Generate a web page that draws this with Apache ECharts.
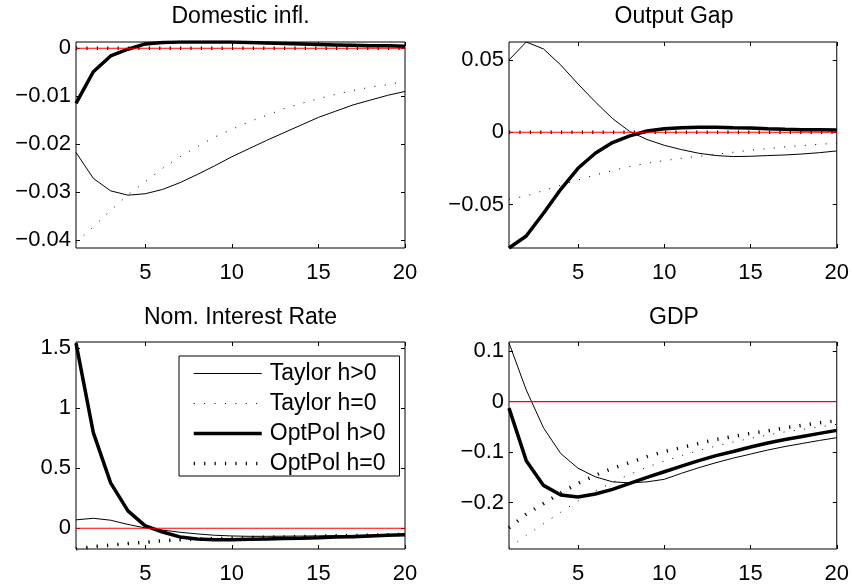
<!DOCTYPE html>
<html>
<head>
<meta charset="utf-8">
<script src="https://cdn.jsdelivr.net/npm/echarts@6/dist/echarts.min.js"></script>
<style>html,body{margin:0;padding:0;background:#fff;}#c{width:852px;height:585px;}</style>
</head>
<body>
<div id="c"></div>
<script>
// ---- data ----
const periods = [1,2,3,4,5,6,7,8,9,10,11,12,13,14,15,16,17,18,19,20];
const seriesNames = ['Taylor h>0','Taylor h=0','OptPol h>0','OptPol h=0'];
const panelTitles = ['Domestic infl.','Output Gap','Nom. Interest Rate','GDP'];

// Domestic inflation
const inflTaylorPos = [-0.0217,-0.0271,-0.0297,-0.0306,-0.0303,-0.0294,-0.0280,-0.0263,-0.0245,-0.0226,-0.0209,-0.0192,-0.0176,-0.0160,-0.0144,-0.0131,-0.0118,-0.0108,-0.0098,-0.0090];
const inflTaylorZero = [-0.0405,-0.0372,-0.0338,-0.0305,-0.0278,-0.0250,-0.0226,-0.0205,-0.0185,-0.0169,-0.0153,-0.0140,-0.0126,-0.0115,-0.0105,-0.0096,-0.0088,-0.0081,-0.0076,-0.0069];
const inflOptPos = [-0.0115,-0.0049,-0.0016,-0.0002,0.0009,0.0012,0.0013,0.0013,0.0013,0.0013,0.0012,0.0011,0.0010,0.0009,0.0008,0.0007,0.0006,0.0005,0.0005,0.0004];
const inflOptZero = [0,0,0,0,0,0,0,0,0,0,0,0,0,0,0,0,0,0,0,0];

// Output gap
const gapTaylorPos = [0.0500,0.0624,0.0576,0.0465,0.0334,0.0210,0.0095,0.0005,-0.0050,-0.0090,-0.0120,-0.0145,-0.0161,-0.0168,-0.0166,-0.0161,-0.0157,-0.0150,-0.0141,-0.0129];
const gapTaylorZero = [-0.0463,-0.0440,-0.0403,-0.0366,-0.0330,-0.0295,-0.0265,-0.0237,-0.0214,-0.0196,-0.0180,-0.0166,-0.0152,-0.0138,-0.0124,-0.0113,-0.0101,-0.0092,-0.0083,-0.0076];
const gapOptPos = [-0.0800,-0.0717,-0.0560,-0.0394,-0.0249,-0.0145,-0.0071,-0.0025,0.0009,0.0025,0.0032,0.0035,0.0035,0.0032,0.0030,0.0025,0.0021,0.0018,0.0018,0.0016];
const gapOptZero = [0,0,0,0,0,0,0,0,0,0,0,0,0,0,0,0,0,0,0,0];

// Nominal interest rate
const rateTaylorPos = [0.070,0.083,0.067,0.032,0.003,-0.015,-0.033,-0.047,-0.058,-0.064,-0.067,-0.067,-0.066,-0.065,-0.063,-0.061,-0.059,-0.057,-0.055,-0.053];
const rateTaylorZero = [-0.172,-0.153,-0.140,-0.127,-0.117,-0.104,-0.096,-0.090,-0.086,-0.082,-0.078,-0.075,-0.072,-0.069,-0.066,-0.063,-0.060,-0.057,-0.054,-0.051];
const rateOptPos = [1.540,0.796,0.378,0.145,0.020,-0.031,-0.072,-0.089,-0.095,-0.095,-0.092,-0.089,-0.086,-0.083,-0.078,-0.072,-0.070,-0.064,-0.058,-0.053];
const rateOptZero = [-0.172,-0.153,-0.140,-0.127,-0.117,-0.104,-0.096,-0.090,-0.086,-0.082,-0.078,-0.075,-0.072,-0.069,-0.066,-0.063,-0.060,-0.057,-0.054,-0.051];

// GDP
const gdpTaylorPos = [0.116,0.023,-0.052,-0.103,-0.132,-0.149,-0.159,-0.161,-0.159,-0.154,-0.142,-0.131,-0.121,-0.112,-0.104,-0.096,-0.089,-0.083,-0.077,-0.0715];
const gdpTaylorZero = [-0.290,-0.265,-0.242,-0.219,-0.197,-0.177,-0.160,-0.144,-0.130,-0.118,-0.107,-0.097,-0.088,-0.080,-0.073,-0.066,-0.060,-0.055,-0.050,-0.045];
const gdpOptPos = [-0.013,-0.117,-0.166,-0.185,-0.189,-0.183,-0.174,-0.162,-0.150,-0.139,-0.128,-0.117,-0.107,-0.099,-0.090,-0.082,-0.075,-0.069,-0.063,-0.057];
const gdpOptZero = [-0.250,-0.223,-0.202,-0.181,-0.162,-0.146,-0.132,-0.121,-0.109,-0.099,-0.091,-0.083,-0.075,-0.069,-0.063,-0.058,-0.052,-0.047,-0.042,-0.038];

// zero reference line (red) values
const zeroRef = [0,0,0,0,0,0,0,0,0,0,0,0,0,0,0,0,0,0,0,0];

// axis ticks / labels
const xTicks = [5,10,15,20];
const xTickLabels = ['5','10','15','20'];
const inflYTicks = [-0.04,-0.03,-0.02,-0.01,0];
const inflYLabels = ['\u22120.04','\u22120.03','\u22120.02','\u22120.01','0'];
const gapYTicks = [-0.05,0,0.05];
const gapYLabels = ['\u22120.05','0','0.05'];
const rateYTicks = [0,0.5,1,1.5];
const rateYLabels = ['0','0.5','1','1.5'];
const gdpYTicks = [-0.2,-0.1,0,0.1];
const gdpYLabels = ['\u22120.2','\u22120.1','0','0.1'];
const yRanges = [[-0.0416,0.0013],[-0.0800,0.0624],[-0.1725,1.55],[-0.292,0.118]];

// ---- build ----
const FONT = '"Liberation Sans", Arial, Helvetica, sans-serif';
const panels = [
  {data:[inflTaylorPos,inflTaylorZero,inflOptPos,inflOptZero], yt:inflYTicks, yl:inflYLabels},
  {data:[gapTaylorPos,gapTaylorZero,gapOptPos,gapOptZero], yt:gapYTicks, yl:gapYLabels},
  {data:[rateTaylorPos,rateTaylorZero,rateOptPos,rateOptZero], yt:rateYTicks, yl:rateYLabels},
  {data:[gdpTaylorPos,gdpTaylorZero,gdpOptPos,gdpOptZero], yt:gdpYTicks, yl:gdpYLabels}
];
const grids = [
  {left:76, top:42, width:329, height:206},
  {left:509, top:42, width:330, height:206},
  {left:76, top:342, width:329, height:207},
  {left:509, top:342, width:330, height:207}
];
function lineStyleFor(s) {
  return [
    {color:'#000', width:1, type:'solid'},
    {color:'#000', width:1, type:[1,9.4], cap:'butt'},
    {color:'#000', width:3.5, type:'solid'},
    {color:'#000', width:3.5, type:[1.2,9.2], cap:'butt'}
  ][s];
}
function axLine() { return {show:false, onZero:false}; }
function tickOpt(vals) { return {show:true, inside:true, length:4, customValues:vals.slice(), lineStyle:{color:'#000', width:1}}; }
function lab(vals, labels) {
  return (v) => {
    for (let k = 0; k < vals.length; k++) if (Math.abs(vals[k]-v) < 1e-9) return labels[k];
    return '';
  };
}
const xAxes = [], yAxes = [], series = [], graphics = [];
panels.forEach((p, i) => {
  xAxes.push({gridIndex:i, type:'value', min:1, max:20, position:'bottom',
    axisLine:axLine(), splitLine:{show:false}, axisTick:tickOpt(xTicks),
    axisLabel:{show:true, customValues:xTicks.slice(), formatter:lab(xTicks,xTickLabels), fontSize:22, fontFamily:FONT, color:'#000', margin:14}
  });
  xAxes.push({gridIndex:i, type:'value', min:1, max:20, position:'top',
    axisLine:axLine(), splitLine:{show:false}, axisTick:tickOpt(xTicks),
    axisLabel:{show:false}
  });
  yAxes.push({gridIndex:i, type:'value', min:yRanges[i][0], max:yRanges[i][1], position:'left',
    axisLine:axLine(), splitLine:{show:false}, axisTick:tickOpt(p.yt),
    axisLabel:{show:true, customValues:p.yt.slice(), formatter:lab(p.yt,p.yl), fontSize:22, fontFamily:FONT, color:'#000', margin:5}
  });
  yAxes.push({gridIndex:i, type:'value', min:yRanges[i][0], max:yRanges[i][1], position:'right',
    axisLine:axLine(), splitLine:{show:false}, axisTick:tickOpt(p.yt),
    axisLabel:{show:false}
  });
  p.data.forEach((arr, s) => {
    series.push({
      name: seriesNames[s], type:'line', xAxisIndex:2*i, yAxisIndex:2*i,
      data: periods.map((t, k) => [t, arr[k]]),
      symbol:'none', smooth:false, silent:true, animation:false,
      lineStyle: lineStyleFor(s), itemStyle:{color:'#000'}, z: 3
    });
  });
  // red zero reference line
  series.push({
    name:'zeroRef' + i, type:'line', xAxisIndex:2*i, yAxisIndex:2*i,
    data: periods.map((t, k) => [t, zeroRef[k]]),
    symbol:'none', silent:true, animation:false, z:8,
    itemStyle:{color:'#ff0000'}, lineStyle:{color:'#ff0000', width:1.2, type:'solid'}
  });
  const g = grids[i];
  graphics.push({type:'text', x: g.left + g.width/2, y: i < 2 ? 5 : 306, z:20,
    style:{text:panelTitles[i], font:'23px ' + FONT, fill:'#000', textAlign:'center', textVerticalAlign:'top'}});
});

const chart = echarts.init(document.getElementById('c'), null, {renderer:'canvas'});
chart.setOption({
  backgroundColor:'#fff',
  animation:false,
  grid: grids.map(g => Object.assign({containLabel:false, show:true, borderColor:'#000', borderWidth:1, backgroundColor:'rgba(0,0,0,0)'}, g)),
  xAxis: xAxes,
  yAxis: yAxes,
  series: series,
  legend: {
    data: seriesNames.map((n, s) => ({name:n, lineStyle: lineStyleFor(s)})),
    orient:'vertical', left:179, top:356,
    itemWidth:68, itemHeight:22, itemGap:7,
    padding:[6,14,1,13],
    borderColor:'#000', borderWidth:1, backgroundColor:'#fff',
    selectedMode:false, z:10,
    itemStyle:{opacity:0, color:'rgba(0,0,0,0)', borderWidth:0},
    lineStyle:{width:'inherit'},
    textStyle:{fontSize:23, fontFamily:FONT, color:'#000', padding:[0,0,0,3], lineHeight:22}
  },
  graphic: graphics
});
</script>
</body>
</html>
